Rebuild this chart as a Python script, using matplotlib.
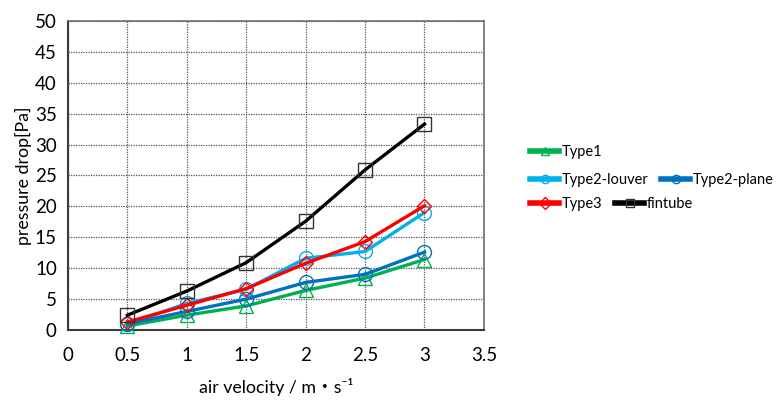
import matplotlib
matplotlib.use("Agg")
import matplotlib.pyplot as plt

plt.rcParams['font.family'] = ['Lato', 'DejaVu Sans']

velocity = [0.5, 1.0, 1.5, 2.0, 2.5, 3.0]
type1 = [0.65, 2.4, 3.9, 6.4, 8.4, 11.4]
type2_louver = [1.0, 4.3, 6.6, 11.6, 12.7, 19.0]
type2_plane = [1.0, 3.0, 5.0, 7.7, 9.0, 12.6]
type3 = [1.3, 4.0, 6.7, 10.8, 14.3, 20.1]
fintube = [2.4, 6.3, 10.9, 17.6, 25.9, 33.3]

x_ticks = [0, 0.5, 1, 1.5, 2, 2.5, 3, 3.5]
y_ticks = [0, 5, 10, 15, 20, 25, 30, 35, 40, 45, 50]

series = [
    ("Type1", type1, "#00B050", "^"),
    ("Type2-louver", type2_louver, "#00B0F0", "o"),
    ("Type2-plane", type2_plane, "#0070C0", "o"),
    ("Type3", type3, "#FF0000", "D"),
    ("fintube", fintube, "#000000", "s"),
]

fig = plt.figure(figsize=(7.76, 4.01), dpi=100)
ax = fig.add_axes([0.0876, 0.177, 0.536, 0.771])

handles = {}
for name, vals, color, mk in series:
    ms = 7.5 if mk == "D" else 10
    (h,) = ax.plot(velocity, vals, color=color, lw=2.4, marker=mk,
                   markersize=ms, markerfacecolor="none",
                   markeredgecolor=color if name != "fintube" else "#333333",
                   markeredgewidth=1.0, label=name, zorder=3, clip_on=False)
    handles[name] = h

ax.set_xlim(0, 3.5)
ax.set_ylim(0, 50)
ax.set_xticks(x_ticks)
ax.set_xticklabels([f"{v:g}" for v in x_ticks])
ax.set_yticks(y_ticks)
ax.tick_params(axis="both", length=0, labelsize=13.5, colors="#000000")
ax.tick_params(axis="x", pad=12)
ax.tick_params(axis="y", pad=8)
ax.grid(True, linestyle=(0, (1, 1)), color="#555555", linewidth=0.9)
ax.set_axisbelow(True)
for side in ["left", "bottom"]:
    ax.spines[side].set_color("#3c3c3c")
    ax.spines[side].set_linewidth(1.5)
for side in ["top", "right"]:
    ax.spines[side].set_color("#6e6e6e")
    ax.spines[side].set_linewidth(1.2)

ax.set_xlabel("air velocity / m\u30fbs\u207b\u00b9", fontsize=12.8, labelpad=10,
              family=['Lato', 'Noto Sans CJK JP', 'DejaVu Sans'])
ax.set_ylabel("pressure drop[Pa]", fontsize=12.8, labelpad=2)

leg_kw = dict(frameon=False, fontsize=10.5, handlelength=2.0, handletextpad=0.15,
              borderaxespad=0, borderpad=0, columnspacing=0.9)
rows = [
    (["Type1"], 0.621),
    (["Type2-louver", "Type2-plane"], 0.551),
    (["Type3", "fintube"], 0.491),
]
for names, y in rows:
    leg = fig.legend([handles[n] for n in names], names, ncol=len(names),
                     loc="center left", bbox_to_anchor=(0.683, y), **leg_kw)
    for lh in leg.legend_handles:
        lh.set_markersize(6)
        lh.set_linewidth(4)

fig.savefig("out.png", dpi=100)
